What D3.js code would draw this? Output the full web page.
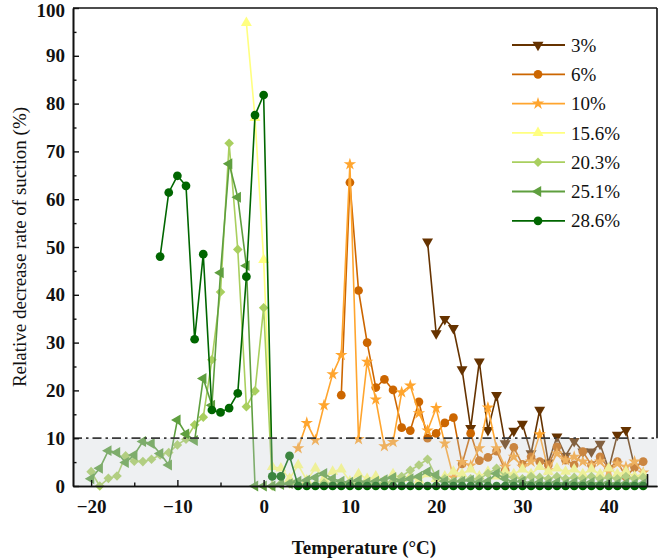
<!DOCTYPE html>
<html><head><meta charset="utf-8">
<script src="https://cdn.jsdelivr.net/npm/d3@7"></script>
<style>body{margin:0;background:#fff}svg{display:block}
svg text{font-family:"Times New Roman","Liberation Serif",Times,Tinos,"Nimbus Roman","Nimbus Roman No9 L","Noto Serif","FreeSerif","DejaVu Serif",serif !important;}</style>
</head><body>
<svg id="c" width="661" height="559"></svg>
<script>
// ---- data ----
const seriesNames = ["3%", "6%", "10%", "15.6%", "20.3%", "25.1%", "28.6%"];
const seriesColors = ["#663300", "#cc6600", "#ffa52e", "#ffff80", "#a9cf5f", "#5f9f3f", "#006600"];
const seriesMarkers = ["tridown", "circle", "star", "triup", "diamond", "trileft", "circle"];
const seriesStart = [19, 9, 4, -2, -20, -20, -12]; // temperature of first value, 1 °C steps

const s3 = [51.1, 31.9, 34.9, 33.0, 24.4, 12.1, 26.0, 11.7, 19.0, 8.9, 11.5, 13.0, 6.8, 15.9, 4.9, 10.3, 6.3, 9.4, 7.2, 7.2, 8.8, 3.5, 10.7, 11.7, 4.0];
const s6 = [19.0, 63.5, 40.9, 30.0, 20.6, 22.3, 20.1, 12.2, 11.6, 17.6, 10.0, 11.0, 13.2, 14.3, 4.6, 11.0, 5.3, 6.0, 7.3, 3.3, 8.1, 4.5, 6.1, 5.1, 4.4, 8.2, 5.4, 4.4, 7.2, 4.4, 6.1, 3.7, 5.1, 1.9, 3.9, 5.1];
const s10 = [7.9, 13.2, 9.6, 16.9, 23.4, 27.4, 67.3, 9.8, 26.0, 18.1, 8.3, 9.2, 19.6, 21.0, 15.2, 11.6, 16.3, 8.9, 1.8, 5.0, 4.3, 7.9, 16.4, 7.9, 4.0, 6.1, 4.0, 5.1, 10.8, 3.3, 6.8, 5.4, 6.1, 5.1, 4.4, 5.1, 3.0, 4.7, 4.0, 5.1, 2.8];
const s156 = [96.9, 77.0, 47.3, 4.0, 3.7, 1.5, 4.4, 1.2, 3.7, 1.5, 3.0, 3.5, 1.0, 2.5, 1.5, 2.0, 1.0, 2.5, 1.5, 2.0, 1.2, 2.5, 1.5, 2.0, 3.0, 2.5, 3.5, 2.0, 3.0, 2.0, 3.0, 2.5, 3.5, 2.5, 4.0, 3.0, 3.7, 3.0, 3.5, 2.5, 3.5, 2.5, 3.7, 2.5, 3.0, 2.0, 2.5];
const s203 = [3.0, 0, 1.6, 2.1, 6.3, 5.2, 5.1, 5.6, 6.5, 7.0, 8.6, 9.8, 12.8, 14.4, 26.4, 40.6, 71.7, 49.5, 16.6, 19.9, 37.3,
  0, 0.5, 0.5, 0.3, 0.5, 0.3, 0.6, 0.5, 0.3, 0.5, 0.6, 0.3, 0.5, 0.6, 1.0, 2.0, 3.3, 4.4, 5.6, 1.8, 1.5, 1.0, 1.2, 1.5, 1.5, 2.6, 3.7, 2.0, 1.8, 1.5, 2.0, 1.8, 1.5, 2.0, 1.5, 1.8, 1.5, 2.0, 1.5, 1.8, 1.5, 2.0, 1.5, 1.8];
const s251 = [1.5, 3.7, 7.4, 7.0, 4.9, 6.5, 9.3, 8.9, 6.8, 4.4, 13.8, 10.9, 9.5, 22.5, 16.9, 44.6, 67.4, 60.4, 46.1, 0,
  0, 0, 0.3, 0.5, 1.0, 1.2, 1.8, 2.6, 1.5, 1.0, 0.8, 1.2, 0.8, 1.0, 1.3, 1.8, 1.0, 1.5, 2.0, 3.0, 2.3, 1.0, 0.8, 1.0, 1.2, 0.8, 1.0, 2.6, 1.5, 0.8, 1.0, 0.6, 0.8, 0.6, 0.8, 0.5, 0.8, 0.6, 0.8, 0.5, 0.7, 0.5, 0.6, 0.5, 0.5];
const s286 = [48.0, 61.4, 64.9, 62.8, 30.7, 48.5, 15.9, 15.4, 16.3, 19.4, 43.8, 77.6, 81.8, 2.0, 2.0, 6.3,
  0, 0, 0, 0, 0, 0, 0, 0, 0, 0, 0, 0, 0, 0, 0, 0, 0, 0, 0, 0, 0, 0, 0, 0, 0, 0, 0, 0, 0, 0, 0, 0, 0, 0, 0, 0, 0, 0, 0, 0, 0];
const seriesValues = [s3, s6, s10, s156, s203, s251, s286];

const xTicks = [-20, -10, 0, 10, 20, 30, 40];
const yTicks = [0, 10, 20, 30, 40, 50, 60, 70, 80, 90, 100];
const thresholdValue = 10;
const xTitle = "Temperature (°C)";
const yTitle = "Relative decrease rate of suction (%)";

// ---- drawing ----
const svg = d3.select("#c");
const L = 73, R = 657, T = 8, B = 486;
const x = d3.scaleLinear().domain([-22.1, 45.6]).range([L, R]);
const y = d3.scaleLinear().domain([0, 100]).range([B, T]);
const serif = "Times New Roman, Liberation Serif, Tinos, Noto Serif, DejaVu Serif, serif";

svg.append("rect").attr("x", 0).attr("y", 0).attr("width", 661).attr("height", 559).attr("fill", "#fff");

const plot = svg.append("g");
const line = d3.line().x(d => x(d.t)).y(d => y(d.v));

function symbolPath(kind) {
  if (kind === "circle") return d3.symbol(d3.symbolCircle, 60)();
  if (kind === "star") return d3.symbol(d3.symbolStar, 48)();
  if (kind === "diamond") return d3.symbol(d3.symbolSquare, 46)();
  return d3.symbol(d3.symbolTriangle, 52)();
}
function symbolRot(kind) {
  if (kind === "tridown") return 180;
  if (kind === "trileft") return -90;
  if (kind === "diamond") return 45;
  return 0;
}

seriesValues.forEach((vals, i) => {
  const pts = vals.map((v, k) => ({ t: seriesStart[i] + k, v }));
  const g = plot.append("g");
  g.append("path").datum(pts).attr("d", line).attr("fill", "none")
    .attr("stroke", seriesColors[i]).attr("stroke-width", 1.6).attr("stroke-linejoin", "round");
  g.selectAll("path.m").data(pts).join("path").attr("class", "m")
    .attr("d", symbolPath(seriesMarkers[i]))
    .attr("transform", d => `translate(${x(d.t)},${y(d.v)}) rotate(${symbolRot(seriesMarkers[i])})`)
    .attr("fill", seriesColors[i]);
});

// shaded band (0-10 %), semi-transparent over the data
svg.append("rect").attr("x", L).attr("y", y(thresholdValue))
  .attr("width", R - L).attr("height", y(0) - y(thresholdValue))
  .attr("fill", "#c8cdd5").attr("opacity", 0.3);

// threshold dash-dot line
svg.append("line").attr("x1", L).attr("x2", R).attr("y1", y(thresholdValue)).attr("y2", y(thresholdValue))
  .attr("stroke", "#3a3a3a").attr("stroke-width", 1.8).attr("stroke-dasharray", "9,4,2.5,4");

// frame
const frame = svg.append("g").attr("fill", "none").attr("stroke", "#111").attr("stroke-width", 1.6);
frame.append("line").attr("x1", L).attr("x2", R).attr("y1", T).attr("y2", T);
frame.append("line").attr("x1", R).attr("x2", R).attr("y1", T).attr("y2", y(thresholdValue));
frame.append("line").attr("x1", x(44.5)).attr("x2", x(44.5)).attr("y1", y(2.5)).attr("y2", B);

// axes (ticks inward)
const xAxis = d3.axisBottom(x).tickValues(xTicks).tickSizeInner(-6).tickSizeOuter(0).tickPadding(14).tickFormat(d3.format("d"));
const xMinor = d3.axisBottom(x).tickValues([-15, -5, 5, 15, 25, 35]).tickSizeInner(-3.5).tickSizeOuter(0).tickFormat("");
const yAxis = d3.axisLeft(y).tickValues(yTicks).tickSizeInner(-6).tickSizeOuter(0).tickPadding(8);
const yMinor = d3.axisLeft(y).tickValues([5, 15, 25, 35, 45, 55, 65, 75, 85, 95]).tickSizeInner(-3.5).tickSizeOuter(0).tickFormat("");

function styleAxis(g) {
  g.attr("font-family", serif);
  g.select(".domain").attr("stroke", "#111").attr("stroke-width", 1.6);
  g.selectAll(".tick line").attr("stroke", "#111").attr("stroke-width", 1.4);
  g.selectAll("text").attr("font-family", serif).attr("font-weight", "bold").attr("font-size", 19).attr("fill", "#111");
}
svg.append("g").attr("transform", `translate(0,${B})`).call(xMinor).call(styleAxis);
svg.append("g").attr("transform", `translate(0,${B})`).call(xAxis).call(styleAxis);
svg.append("g").attr("transform", `translate(${L},0)`).call(yMinor).call(styleAxis);
svg.append("g").attr("transform", `translate(${L},0)`).call(yAxis).call(styleAxis);
svg.selectAll(".tick text").filter(d => d === 100).attr("dy", "0.45em");

// titles
svg.append("text").attr("x", 364).attr("y", 554).attr("text-anchor", "middle")
  .attr("font-family", serif).attr("font-weight", "bold").attr("font-size", 19).attr("fill", "#111").text(xTitle);
svg.append("text").attr("transform", "translate(26,247) rotate(-90)").attr("text-anchor", "middle")
  .attr("font-family", serif).attr("font-size", 19).attr("fill", "#111").text(yTitle);

// legend
const leg = svg.append("g");
seriesNames.forEach((name, i) => {
  const ly = 45 + i * 29.3;
  leg.append("line").attr("x1", 512).attr("x2", 565).attr("y1", ly).attr("y2", ly)
    .attr("stroke", seriesColors[i]).attr("stroke-width", 1.8);
  leg.append("path").attr("d", symbolPath(seriesMarkers[i]))
    .attr("transform", `translate(538,${ly}) rotate(${symbolRot(seriesMarkers[i])})`)
    .attr("fill", seriesColors[i]);
  leg.append("text").attr("x", 571).attr("y", ly).attr("dy", "0.35em")
    .attr("font-family", serif).attr("font-size", 19).attr("fill", "#111").text(name);
});
</script>
</body></html>
